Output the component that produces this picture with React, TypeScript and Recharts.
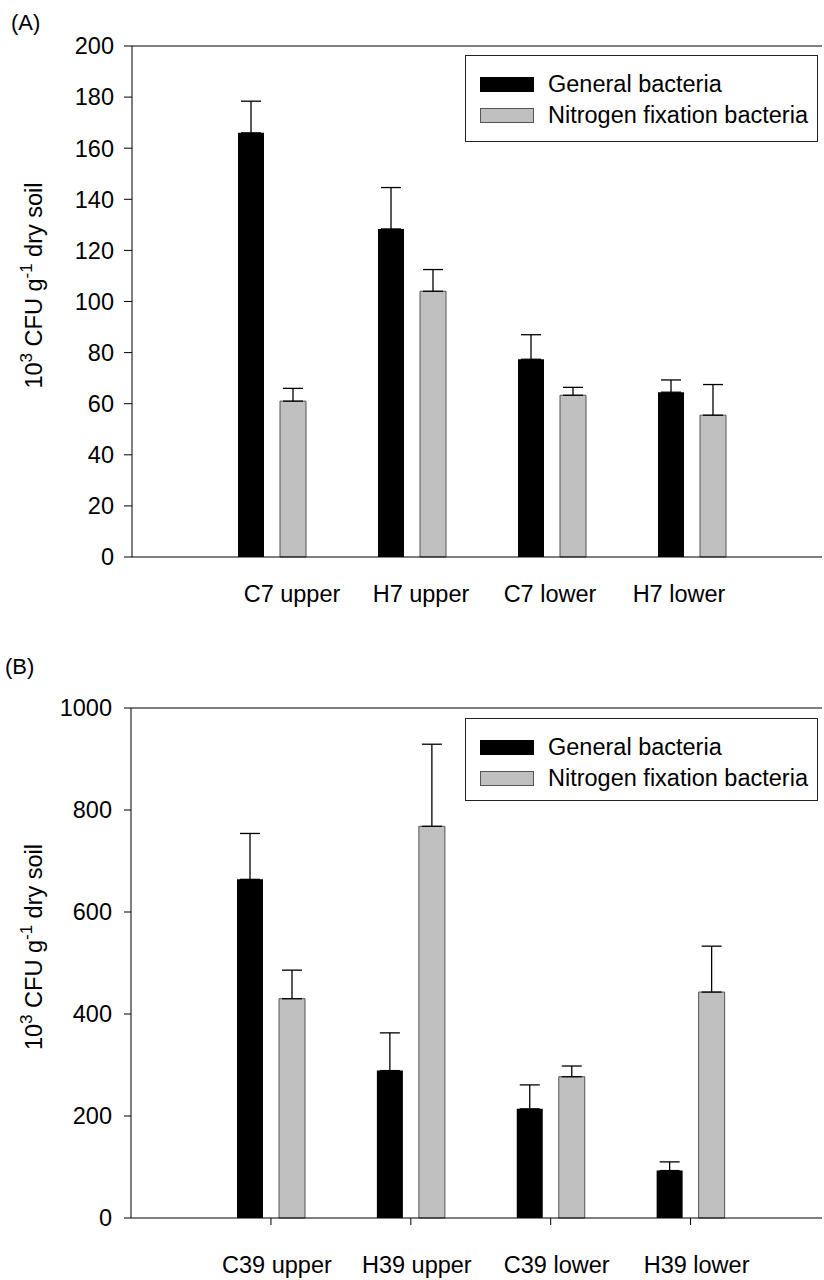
import { Bar, BarChart, ErrorBar, Legend, ReferenceLine, XAxis, YAxis } from "recharts"

const FONT = '"Liberation Sans", Arial, Helvetica, sans-serif'
const FS = 23.5

const seriesNames = ["General bacteria", "Nitrogen fixation bacteria"]

// (A) 7-day samples
const groups7 = ["C7 upper", "H7 upper", "C7 lower", "H7 lower"]
const general7 = [166, 128.4, 77.4, 64.5]
const general7Err = [12.4, 16.2, 9.6, 4.8]
const nitrogen7 = [61, 104, 63.3, 55.5]
const nitrogen7Err = [5, 8.5, 3.1, 12]
const ticks7 = [0, 20, 40, 60, 80, 100, 120, 140, 160, 180, 200]

// (B) 39-day samples
const groups39 = ["C39 upper", "H39 upper", "C39 lower", "H39 lower"]
const general39 = [664, 289, 214, 93]
const general39Err = [90, 74, 47, 17]
const nitrogen39 = [430, 768, 277, 443]
const nitrogen39Err = [56, 161, 21, 90]
const ticks39 = [0, 200, 400, 600, 800, 1000]

// error bars only point upward, so the low side is zero
function buildRows(groups: string[], gen: number[], genErr: number[], nit: number[], nitErr: number[]) {
  return groups.map((group, i) => ({
    group,
    general: gen[i],
    generalErr: [0, genErr[i]],
    nitrogen: nit[i],
    nitrogenErr: [0, nitErr[i]],
  }))
}

const rows7 = buildRows(groups7, general7, general7Err, nitrogen7, nitrogen7Err)
const rows39 = buildRows(groups39, general39, general39Err, nitrogen39, nitrogen39Err)

const BLACK = "#000"
const GREY = "#c0c0c0"
const GREY_EDGE = "#555"
const tickStyle = { fontSize: FS, fill: "#000", fontFamily: FONT }

function YTitle(props: any) {
  const vb = props.viewBox || {}
  const cy = vb.height ? vb.y + vb.height / 2 - 16 : 300
  const x = 42
  return (
    <text x={x} y={cy} transform={`rotate(-90, ${x}, ${cy})`} textAnchor="middle" fontSize={FS} fill="#000" fontFamily={FONT}>
      10
      <tspan dy={-10} fontSize={17}>3</tspan>
      <tspan dy={10}> CFU g</tspan>
      <tspan dy={-10} fontSize={17}>-1</tspan>
      <tspan dy={10}> dry soil</tspan>
    </text>
  )
}

function LegendBox({ height }: { height: number }) {
  const row = (name: string, fill: string, edge: boolean, top: number) => (
    <div key={name} style={{ position: "absolute", left: 0, top, height: 30, display: "flex", alignItems: "center" }}>
      <div
        style={{
          marginLeft: 14,
          width: 54,
          height: 15,
          boxSizing: "border-box",
          background: fill,
          border: edge ? `1px solid ${GREY_EDGE}` : "none",
        }}
      />
      <span style={{ marginLeft: 14, fontSize: FS, color: "#000", whiteSpace: "nowrap" }}>{name}</span>
    </div>
  )
  return (
    <div
      style={{
        position: "relative",
        width: 353,
        height,
        boxSizing: "border-box",
        border: "1px solid #222",
        background: "#fff",
        fontFamily: FONT,
      }}
    >
      {row(seriesNames[0], BLACK, false, 13)}
      {row(seriesNames[1], GREY, true, 44)}
    </div>
  )
}

function PanelA() {
  return (
    <BarChart width={824} height={620} data={rows7} margin={{ top: 46, right: 2, bottom: 13, left: 72 }} barSize={26} barGap={16}>
      <XAxis xAxisId="bars" dataKey="group" hide height={0} padding={{ left: 70, right: 60 }} />
      <XAxis
        xAxisId="labels"
        dataKey="group"
        height={50}
        padding={{ left: 95.5, right: 78.5 }}
        stroke="#000"
        tickLine={false}
        tickSize={6}
        tickMargin={22}
        tick={tickStyle}
        interval={0}
      />
      <YAxis
        domain={[0, 200]}
        ticks={ticks7}
        interval={0}
        width={60}
        stroke="#000"
        tickSize={8}
        tickMargin={10}
        tick={tickStyle}
        label={{ content: (p: any) => <YTitle {...p} /> }}
      />
      <ReferenceLine xAxisId="bars" y={200} stroke="#000" />
      <Legend
        layout="horizontal"
        verticalAlign="middle"
        wrapperStyle={{ left: 465, top: 55, width: 353 }}
        content={() => <LegendBox height={87} />}
      />
      <Bar xAxisId="bars" dataKey="general" name={seriesNames[0]} fill={BLACK} isAnimationActive={false}>
        <ErrorBar dataKey="generalErr" direction="y" width={10} stroke="#000" strokeWidth={1.3} isAnimationActive={false} />
      </Bar>
      <Bar xAxisId="bars" dataKey="nitrogen" name={seriesNames[1]} fill={GREY} stroke={GREY_EDGE} strokeWidth={1} isAnimationActive={false}>
        <ErrorBar dataKey="nitrogenErr" direction="y" width={10} stroke="#000" strokeWidth={1.3} isAnimationActive={false} />
      </Bar>
    </BarChart>
  )
}

function PanelB() {
  return (
    <BarChart width={824} height={620} data={rows39} margin={{ top: 48, right: 2, bottom: 6, left: 71 }} barSize={26} barGap={16}>
      <XAxis
        xAxisId="bars"
        dataKey="group"
        height={56}
        padding={{ left: 70, right: 61.5 }}
        stroke="#000"
        tickSize={7}
        tickMargin={31}
        tick={{ ...tickStyle, dx: 6 }}
        interval={0}
      />
      <YAxis
        domain={[0, 1000]}
        ticks={ticks39}
        interval={0}
        width={60}
        stroke="#000"
        tickSize={7}
        tickMargin={12}
        tick={tickStyle}
        label={{ content: (p: any) => <YTitle {...p} /> }}
      />
      <ReferenceLine xAxisId="bars" y={1000} stroke="#000" />
      <Legend
        layout="horizontal"
        verticalAlign="middle"
        wrapperStyle={{ left: 465, top: 58, width: 353 }}
        content={() => <LegendBox height={83} />}
      />
      <Bar xAxisId="bars" dataKey="general" name={seriesNames[0]} fill={BLACK} isAnimationActive={false}>
        <ErrorBar dataKey="generalErr" direction="y" width={10} stroke="#000" strokeWidth={1.3} isAnimationActive={false} />
      </Bar>
      <Bar xAxisId="bars" dataKey="nitrogen" name={seriesNames[1]} fill={GREY} stroke={GREY_EDGE} strokeWidth={1} isAnimationActive={false}>
        <ErrorBar dataKey="nitrogenErr" direction="y" width={10} stroke="#000" strokeWidth={1.3} isAnimationActive={false} />
      </Bar>
    </BarChart>
  )
}

export default function App() {
  return (
    <div style={{ position: "absolute", left: 0, top: 0, width: 824, height: 1280, background: "#fff", fontFamily: FONT }}>
      <div style={{ position: "absolute", left: 11, top: 12, fontSize: 22, lineHeight: "22px" }}>(A)</div>
      <div style={{ position: "absolute", left: 0, top: 0 }}>
        <PanelA />
      </div>
      <div style={{ position: "absolute", left: 5, top: 656, fontSize: 22, lineHeight: "22px" }}>(B)</div>
      <div style={{ position: "absolute", left: 0, top: 660 }}>
        <PanelB />
      </div>
    </div>
  )
}
